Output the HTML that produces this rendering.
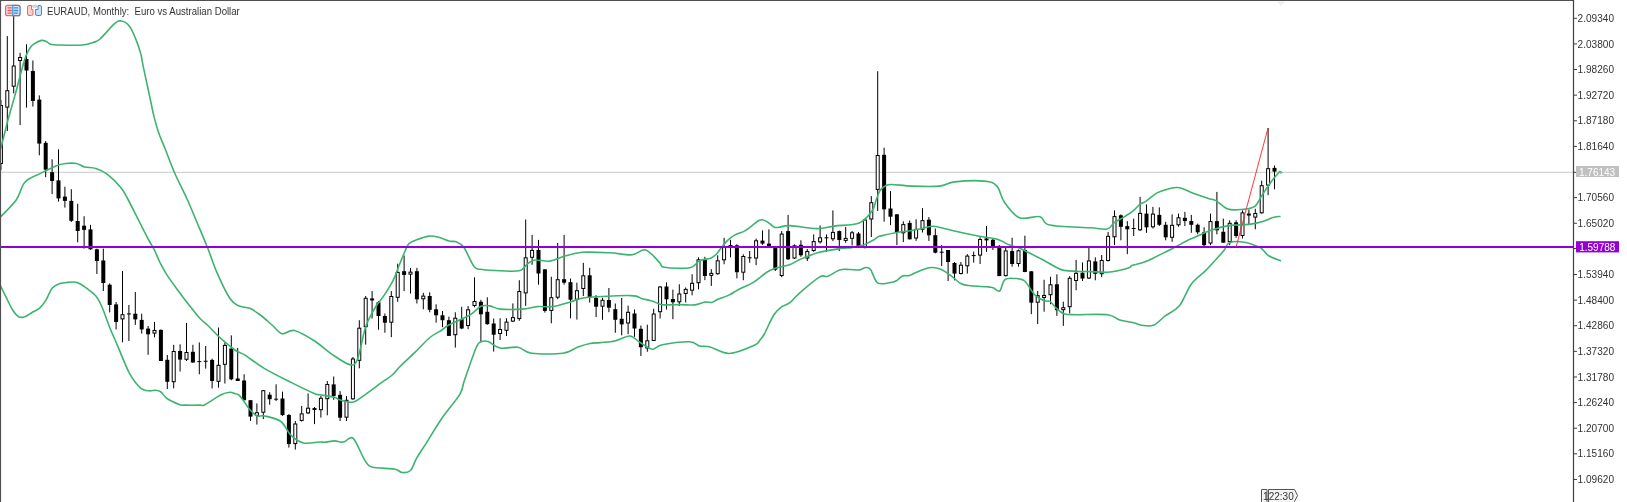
<!DOCTYPE html>
<html><head><meta charset="utf-8"><title>EURAUD Monthly</title>
<style>
html,body{margin:0;padding:0;background:#fff;width:1627px;height:502px;overflow:hidden;}
svg{position:absolute;left:0;top:0;display:block;will-change:transform;}
.ax{font-family:"Liberation Sans",sans-serif;font-size:10px;fill:#333;}
.axw{font-family:"Liberation Sans",sans-serif;font-size:10px;fill:#fff;}
.title{font-family:"Liberation Sans",sans-serif;font-size:10px;fill:#333;white-space:pre;}
</style></head><body>
<svg width="1627" height="502" viewBox="0 0 1627 502"><line x1="0" y1="172.3" x2="1573.5" y2="172.3" stroke="#c8c8c8" stroke-width="1"/>
<path d="M0.9 100V170M7.3 36.1V131M13.7 5V93.4M20.1 52.8V125M26.5 44.3V107.6M32.9 60.5V106.6M39.3 95.4V155.3M45.7 141V177.2M52.1 159.3V194.1M58.5 149.3V201.6M64.9 186.7V207.6M71.3 189.2V222M77.7 203.7V242.3M84.1 216.2V248.6M90.5 224.9V249.8M96.9 248.6V274M103.3 248.6V291M109.7 283.4V312.4M116.1 302V329.4M122.5 271V342.3M128.9 305V341M126.9 313.95H130.9M135.3 292V324.9M141.7 313.7V333.6M148.1 326V354.8M154.5 321.9V337.3M160.9 329.4V361M167.3 355V389M173.7 344.8V388.4M180.1 344.3V371.5M186.5 322.9V361M192.9 344.8V362.7M199.3 342.4V374.3M197.3 361.65H201.3M205.7 346V368.6M203.7 361.25H207.7M212.1 358.6V388.5M218.5 327.5V387.7M224.9 342.4V383.5M231.3 335.4V380.3M237.7 347.9V381M244.1 374.3V400.2M250.5 400.2V420.9M256.9 403.4V424.6M263.3 390V419.1M269.7 392.2V404.7M276.1 384.3V401M274.1 399.2H278.1M282.5 391.7V415.9M288.9 414V447.6M295.3 421V449.6M301.7 405.9V421.6M308.1 393.5V414.1M314.5 407V424.1M320.9 396V417.6M327.3 381.1V415.3M333.7 376.5V399.8M340.1 391.1V421M346.5 396.1V421M352.9 357V399.8M359.3 320.2V368.3M365.7 296V344.6M372.1 291.1V318.5M378.5 301V329.7M384.9 313.5V332.7M391.3 291.1V337.2M397.7 263.7V301.8M404.1 255.5V291.1M410.5 267.9V293.6M416.9 267.9V303.5M423.3 292.8V309.3M429.7 292.3V312.3M436.1 304.3V322.7M442.5 311V327.2M448.9 316.7V335.9M455.3 312.3V347.6M461.7 306.8V329.2M468.1 306V329.2M474.5 277.4V307.3M480.9 299.8V341.7M487.3 297.3V324.7M493.7 318.5V351.6M500.1 318.3V340M506.5 318.3V336M512.9 303.4V322M519.3 280.2V320.8M525.7 219.5V305.9M532.1 234.9V264.8M538.5 239.9V284.7M544.9 269.3V312.6M551.3 276.7V323.3M557.7 242.9V299.2M564.1 234.9V284.7M570.5 278.5V318.3M576.9 282.7V319.6M583.3 262.8V296M589.7 267.8V302.5M596.1 295.2V317M602.5 297.7V319.8M608.9 288V312.2M615.3 303.5V332.8M621.7 298V335.3M628.1 305.6V334.2M634.5 309.5V336.8M640.9 325.5V356M647.3 324.7V351.7M653.7 308.8V341M660.1 286V318.5M666.5 282.3V309.5M672.9 289.6V319.2M679.3 284.3V306M685.7 287.5V302.5M692.1 274.2V295.3M698.5 257.3V289.3M704.9 256.8V280.2M711.3 269.2V285.9M717.7 255.3V274.7M724.1 237.8V264.2M730.5 239.8V257.3M736.9 244.3V278.4M743.3 254.3V280.2M749.7 251V262.7M747.7 257.8H751.7M756.1 238.6V265.2M762.5 230.4V244.8M768.9 229.4V247.8M775.3 246V271M781.7 231.1V277.2M788.1 214.9V260M794.5 244.5V259M800.9 240.3V256.8M807.3 249V261M813.7 234.4V251.8M820.1 225.4V243.6M826.5 234.4V251.8M824.5 237.8H828.5M832.9 210.4V241.1M839.3 230.5V251M845.7 226.9V242.8M852.1 231V245.5M858.5 232V247.5M864.9 218.6V248.5M871.3 196.1V237M877.7 71.2V211M884.1 147.7V221.7M890.5 191.1V225.2M896.9 214V245.1M903.3 221.3V242M909.7 220.5V239.5M916.1 219.3V240.9M922.5 208.2V232.5M928.9 217V240.9M935.3 228.5V253.4M941.7 245.1V266M939.7 252.2H943.7M948.1 249.9V281M954.5 262V280.3M960.9 262V274.5M967.3 254.1V273.6M973.7 251.6V262.6M971.7 255.6H975.7M980.1 237.2V264M986.5 226V251.8M992.9 239V250M999.3 245V276.1M1005.7 247V276.5M1012.1 237.8V266.7M1018.5 249.5V266.7M1024.9 235.7V272.2M1031.3 271V314.2M1037.7 291V324.1M1044.1 279.8V311.7M1050.5 276.8V304.2M1056.9 274.3V315.9M1063.3 301.7V325.9M1069.7 276.1V313.4M1076.1 259.9V290.3M1082.5 262.4V281M1088.9 247.4V279M1095.3 257.4V280.3M1101.7 255V277.2M1108.1 231.9V261.5M1114.5 210.4V245.1M1120.9 214.4V240.3M1127.3 221.1V254.2M1133.7 218.6V236M1131.7 228.5H1135.7M1140.1 196.9V231M1146.5 204.4V232.8M1152.9 206.9V228.5M1159.3 207.4V226M1165.7 221.8V240.3M1172.1 214.4V241.8M1178.5 213.6V226.8M1184.9 211.9V226.1M1191.3 214.9V232.8M1197.7 223.6V234.3M1204.1 227.3V246M1210.5 213.6V245.2M1216.9 191.9V234.3M1223.3 218.6V242.7M1229.7 220.3V245.2M1236.1 220.3V237.8M1242.5 210.4V238.5M1248.9 209.5V224.3M1255.3 208.8V229.3M1261.7 180.6V213.6M1268.1 128V195.2M1274.5 165.5V189.3" stroke="#000" stroke-width="1" fill="none"/>
<g fill="#000"><rect x="24.5" y="59" width="4" height="11.5"/><rect x="30.9" y="71" width="4" height="29.9"/><rect x="37.3" y="99.6" width="4" height="44"/><rect x="43.7" y="142.8" width="4" height="26.9"/><rect x="50.1" y="172.2" width="4" height="8.8"/><rect x="56.5" y="180.4" width="4" height="18"/><rect x="62.9" y="196.6" width="4" height="4.3"/><rect x="69.3" y="200.9" width="4" height="19.9"/><rect x="75.7" y="221" width="4" height="10"/><rect x="82.1" y="225.7" width="4" height="4.2"/><rect x="88.5" y="229.4" width="4" height="19.9"/><rect x="94.9" y="249.3" width="4" height="11.7"/><rect x="101.3" y="260.5" width="4" height="22.5"/><rect x="107.7" y="284.7" width="4" height="20.3"/><rect x="114.1" y="304.4" width="4" height="17.5"/><rect x="133.3" y="313.7" width="4" height="5.7"/><rect x="139.7" y="319.9" width="4" height="9.5"/><rect x="146.1" y="328.6" width="4" height="5.7"/><rect x="158.9" y="329.9" width="4" height="31.1"/><rect x="165.3" y="359.8" width="4" height="22"/><rect x="178.1" y="351" width="4" height="8.6"/><rect x="190.9" y="351.8" width="4" height="10.7"/><rect x="210.1" y="359.9" width="4" height="21.1"/><rect x="229.3" y="348.6" width="4" height="30.7"/><rect x="235.7" y="378.5" width="4" height="2.5"/><rect x="242.1" y="380.5" width="4" height="19.7"/><rect x="248.5" y="400.2" width="4" height="16.4"/><rect x="267.7" y="394.7" width="4" height="4.5"/><rect x="280.5" y="398.5" width="4" height="16.6"/><rect x="286.9" y="415" width="4" height="29.1"/><rect x="312.5" y="408.05" width="4" height="2"/><rect x="331.7" y="384.4" width="4" height="11.6"/><rect x="338.1" y="394.8" width="4" height="22.9"/><rect x="370.1" y="298.45" width="4" height="2"/><rect x="376.5" y="302.3" width="4" height="13.7"/><rect x="382.9" y="316" width="4" height="6.7"/><rect x="402.1" y="271.2" width="4" height="3.7"/><rect x="414.9" y="271.2" width="4" height="28.1"/><rect x="427.7" y="296" width="4" height="13.8"/><rect x="434.1" y="309.3" width="4" height="6"/><rect x="440.5" y="315.3" width="4" height="4.9"/><rect x="446.9" y="320.2" width="4" height="15.7"/><rect x="459.7" y="319.2" width="4" height="9.3"/><rect x="478.9" y="301.8" width="4" height="12.5"/><rect x="485.3" y="311.8" width="4" height="12.4"/><rect x="491.7" y="323.5" width="4" height="11.2"/><rect x="536.5" y="249.9" width="4" height="23.6"/><rect x="542.9" y="269.3" width="4" height="41.6"/><rect x="562.1" y="279.2" width="4" height="3.5"/><rect x="568.5" y="282.2" width="4" height="17.5"/><rect x="587.7" y="275.3" width="4" height="21.8"/><rect x="594.1" y="297.8" width="4" height="8.9"/><rect x="606.9" y="300" width="4" height="7.7"/><rect x="613.3" y="309.2" width="4" height="10.6"/><rect x="619.7" y="318.8" width="4" height="5.6"/><rect x="632.5" y="313.5" width="4" height="15"/><rect x="638.9" y="328.8" width="4" height="18.4"/><rect x="664.5" y="286.5" width="4" height="12.8"/><rect x="670.9" y="299" width="4" height="3.3"/><rect x="702.9" y="259.8" width="4" height="16.2"/><rect x="728.5" y="245.05" width="4" height="2"/><rect x="734.9" y="245.3" width="4" height="26.9"/><rect x="760.5" y="240.6" width="4" height="3"/><rect x="766.9" y="243.6" width="4" height="3.2"/><rect x="773.3" y="246.8" width="4" height="22.9"/><rect x="786.1" y="231.1" width="4" height="28.2"/><rect x="798.9" y="244.8" width="4" height="10.5"/><rect x="837.3" y="231.1" width="4" height="8.9"/><rect x="856.5" y="233.5" width="4" height="13.7"/><rect x="882.1" y="154.8" width="4" height="54.5"/><rect x="888.5" y="208.5" width="4" height="8.2"/><rect x="894.9" y="214.3" width="4" height="17.9"/><rect x="907.7" y="222.9" width="4" height="16.4"/><rect x="926.9" y="219.7" width="4" height="15.6"/><rect x="933.3" y="235.2" width="4" height="17.5"/><rect x="946.1" y="250" width="4" height="12"/><rect x="952.5" y="263" width="4" height="10.6"/><rect x="984.5" y="238.4" width="4" height="2"/><rect x="990.9" y="239.8" width="4" height="6.2"/><rect x="997.3" y="246" width="4" height="30.1"/><rect x="1010.1" y="251" width="4" height="13"/><rect x="1022.9" y="250" width="4" height="22"/><rect x="1029.3" y="271.3" width="4" height="31.4"/><rect x="1054.9" y="284.3" width="4" height="25.9"/><rect x="1080.5" y="272.8" width="4" height="5.7"/><rect x="1093.3" y="261.4" width="4" height="12.4"/><rect x="1118.9" y="215.3" width="4" height="11.5"/><rect x="1125.3" y="226.1" width="4" height="3.2"/><rect x="1144.5" y="213.6" width="4" height="13.7"/><rect x="1157.3" y="214.9" width="4" height="9.9"/><rect x="1163.7" y="224.8" width="4" height="12.5"/><rect x="1182.9" y="217.8" width="4" height="3.3"/><rect x="1189.3" y="221.1" width="4" height="3.7"/><rect x="1195.7" y="224.8" width="4" height="7.5"/><rect x="1202.1" y="232.3" width="4" height="12.9"/><rect x="1214.9" y="221.1" width="4" height="9.2"/><rect x="1221.3" y="231.8" width="4" height="10.9"/><rect x="1234.1" y="222.3" width="4" height="13.7"/><rect x="1246.9" y="213.55" width="4" height="2"/><rect x="1272.5" y="167.9" width="4" height="3.7"/></g>
<g fill="#fff" stroke="#000" stroke-width="1"><rect x="-0.6" y="105.5" width="3" height="58"/><rect x="5.8" y="90.7" width="3" height="16.4"/><rect x="12.2" y="66" width="3" height="20.2"/><rect x="18.6" y="57.5" width="3" height="3"/><rect x="121" y="314.7" width="3" height="4.2"/><rect x="153" y="330.4" width="3" height="2.7"/><rect x="172.2" y="351.5" width="3" height="30.2"/><rect x="185" y="352.5" width="3" height="6.8"/><rect x="217" y="365.3" width="3" height="16"/><rect x="223.4" y="345.4" width="3" height="18.9"/><rect x="255.4" y="412.7" width="3" height="2.7"/><rect x="261.8" y="390.7" width="3" height="21.5"/><rect x="293.8" y="424" width="3" height="19.6"/><rect x="300.2" y="413.9" width="3" height="6.5"/><rect x="306.6" y="408.2" width="3" height="4.7"/><rect x="319.4" y="398.3" width="3" height="11.4"/><rect x="325.8" y="384.5" width="3" height="14.2"/><rect x="345" y="400.3" width="3" height="16.9"/><rect x="351.4" y="359" width="3" height="39.8"/><rect x="357.8" y="328.2" width="3" height="32.1"/><rect x="364.2" y="298.3" width="3" height="28.4"/><rect x="389.8" y="296.5" width="3" height="25.7"/><rect x="396.2" y="272.4" width="3" height="24.9"/><rect x="409" y="272.15" width="3" height="2"/><rect x="421.8" y="296.1" width="3" height="2.7"/><rect x="453.8" y="318.2" width="3" height="16.5"/><rect x="466.6" y="309.8" width="3" height="15.7"/><rect x="473" y="301.5" width="3" height="4"/><rect x="498.6" y="329.5" width="3" height="4"/><rect x="505" y="322.1" width="3" height="8.2"/><rect x="511.4" y="317.6" width="3" height="3.5"/><rect x="517.8" y="291.5" width="3" height="27.1"/><rect x="524.2" y="257.8" width="3" height="35.1"/><rect x="530.6" y="250.4" width="3" height="6.9"/><rect x="549.8" y="297.7" width="3" height="12.7"/><rect x="556.2" y="279.7" width="3" height="17.5"/><rect x="575.4" y="290.7" width="3" height="8.5"/><rect x="581.8" y="275.8" width="3" height="12.7"/><rect x="601" y="300.3" width="3" height="5.9"/><rect x="626.6" y="312.3" width="3" height="10.7"/><rect x="645.8" y="340.8" width="3" height="7.2"/><rect x="652.2" y="314" width="3" height="26.5"/><rect x="658.6" y="287" width="3" height="24.7"/><rect x="677.8" y="294" width="3" height="7.8"/><rect x="684.2" y="289.4" width="3" height="4.1"/><rect x="690.6" y="283.3" width="3" height="6.9"/><rect x="697" y="259.8" width="3" height="22.9"/><rect x="709.8" y="273.35" width="3" height="2"/><rect x="716.2" y="260.8" width="3" height="12.9"/><rect x="722.6" y="246.6" width="3" height="13.2"/><rect x="741.8" y="256.5" width="3" height="15.7"/><rect x="754.6" y="240.8" width="3" height="17.2"/><rect x="780.2" y="234.1" width="3" height="41.4"/><rect x="793" y="245.8" width="3" height="12.2"/><rect x="805.8" y="251.5" width="3" height="6.5"/><rect x="812.2" y="241.6" width="3" height="8.9"/><rect x="818.6" y="237.8" width="3" height="4"/><rect x="831.4" y="232.4" width="3" height="6.4"/><rect x="844.2" y="238.4" width="3" height="2"/><rect x="850.6" y="232.8" width="3" height="5.5"/><rect x="863.4" y="220" width="3" height="27.2"/><rect x="869.8" y="202.7" width="3" height="16.3"/><rect x="876.2" y="155.5" width="3" height="33.9"/><rect x="901.8" y="224.6" width="3" height="8.2"/><rect x="914.6" y="229.4" width="3" height="8.6"/><rect x="921" y="220.6" width="3" height="8.6"/><rect x="959.4" y="265.2" width="3" height="8.3"/><rect x="965.8" y="256.1" width="3" height="9.7"/><rect x="978.6" y="239.5" width="3" height="15.6"/><rect x="1004.2" y="250.9" width="3" height="24.7"/><rect x="1017" y="250.8" width="3" height="12.7"/><rect x="1036.2" y="295.7" width="3" height="6.5"/><rect x="1042.6" y="295.45" width="3" height="2"/><rect x="1049" y="284.8" width="3" height="9.9"/><rect x="1061.8" y="307.7" width="3" height="2"/><rect x="1068.2" y="278.3" width="3" height="28.4"/><rect x="1074.6" y="273.3" width="3" height="7.2"/><rect x="1087.4" y="260.9" width="3" height="17.1"/><rect x="1100.2" y="260.5" width="3" height="13.2"/><rect x="1106.6" y="236.3" width="3" height="24.2"/><rect x="1113" y="216.6" width="3" height="20.2"/><rect x="1138.6" y="213.4" width="3" height="16.4"/><rect x="1151.4" y="214.1" width="3" height="12.7"/><rect x="1170.6" y="225.3" width="3" height="12"/><rect x="1177" y="217.8" width="3" height="7"/><rect x="1209" y="221.6" width="3" height="21.4"/><rect x="1228.2" y="223.3" width="3" height="18.4"/><rect x="1241" y="212.9" width="3" height="22.6"/><rect x="1253.8" y="213.5" width="3" height="3.6"/><rect x="1260.2" y="185.7" width="3" height="27.1"/><rect x="1266.6" y="168.7" width="3" height="16.4"/></g>
<path d="M0 150C0.22 149.42 0 151.4 1.3 146.5C2.6 141.6 5.43 129.45 7.8 120.6C10.17 111.75 13.13 102.03 15.5 93.4C17.87 84.77 20.27 75.03 22 68.8C23.73 62.57 24.57 59.47 25.9 56C27.23 52.53 28.7 49.97 30 48C31.3 46.03 31.8 45.47 33.7 44.2C35.6 42.93 39.25 40.82 41.4 40.4C43.55 39.98 45.08 41.07 46.6 41.7C48.12 42.33 48.33 43.65 50.5 44.2C52.67 44.75 54.2 44.87 59.6 45C65 45.13 77.3 45.43 82.9 45C88.5 44.57 90.35 43.4 93.2 42.4C96.05 41.4 96.43 42.12 100 39C103.57 35.88 111.02 26.7 114.6 23.7C118.18 20.7 119.02 20.58 121.5 21C123.98 21.42 127.08 23.1 129.5 26.2C131.92 29.3 134.12 34.98 136 39.6C137.88 44.22 139.62 49.52 140.8 53.9C141.98 58.28 142.12 61.12 143.1 65.9C144.08 70.68 145.5 77.03 146.7 82.6C147.9 88.17 149.1 93.72 150.3 99.3C151.5 104.88 152.5 110.52 153.9 116.1C155.3 121.68 156.78 127.23 158.7 132.8C160.62 138.37 162.8 142.93 165.4 149.5C168 156.07 170.62 163.78 174.3 172.2C177.98 180.62 183.75 191.7 187.5 200C191.25 208.3 193.48 214.12 196.8 222C200.12 229.88 203.98 238.73 207.4 247.3C210.82 255.87 213.57 264.9 217.3 273.4C221.03 281.9 226.27 292.9 229.8 298.3C233.33 303.7 235.18 304.13 238.5 305.8C241.82 307.47 246.17 306.85 249.7 308.3C253.23 309.75 255.97 311.72 259.7 314.5C263.43 317.28 268.38 321.8 272.1 325C275.82 328.2 278.28 332.78 282 333.7C285.72 334.62 288.97 329.28 294.4 330.5C299.83 331.72 308.27 336.98 314.6 341C320.93 345.02 326.53 350.67 332.4 354.6C338.27 358.53 345.65 363.77 349.8 364.6C353.95 365.43 354.8 365.42 357.3 359.6C359.8 353.78 362.8 336.58 364.8 329.7C366.8 322.82 367.38 322.28 369.3 318.3C371.22 314.32 373.75 309.75 376.3 305.8C378.85 301.85 381.82 298.78 384.6 294.6C387.38 290.42 390.67 285.35 393 280.7C395.33 276.05 396.52 271.82 398.6 266.7C400.68 261.58 403.77 253.85 405.5 250C407.23 246.15 407.17 245.3 409 243.6C410.83 241.9 413.18 241.05 416.5 239.8C419.82 238.55 425.17 236.52 428.9 236.1C432.63 235.68 435.57 236.47 438.9 237.3C442.23 238.13 446 240.35 448.9 241.1C451.8 241.85 453.82 240.77 456.3 241.8C458.78 242.83 460.9 243.27 463.8 247.3C466.7 251.33 471 262.33 473.7 266C476.4 269.67 476.45 268.55 480 269.3C483.55 270.05 488.5 270.25 495 270.5C501.5 270.75 513.6 271.88 519 270.8C524.4 269.72 524.77 265.8 527.4 264C530.03 262.2 531.07 260.48 534.8 260C538.53 259.52 544.82 261.75 549.8 261.1C554.78 260.45 559.3 257.57 564.7 256.1C570.1 254.63 574.72 252.85 582.2 252.3C589.68 251.75 601.3 252.38 609.6 252.8C617.9 253.22 625.98 255.28 632 254.8C638.02 254.32 641.13 248.65 645.7 249.9C650.27 251.15 656.3 259.4 659.4 262.3C662.5 265.2 659.2 266.38 664.3 267.3C669.4 268.22 684.12 268.92 690 267.8C695.88 266.68 696.15 262.2 699.6 260.6C703.05 259 707.92 259.27 710.7 258.2C713.48 257.13 714.45 256.05 716.3 254.2C718.15 252.35 719.82 249.48 721.8 247.1C723.78 244.72 726.07 241.9 728.2 239.9C730.33 237.9 731.68 236.68 734.6 235.1C737.52 233.52 741.72 232.78 745.7 230.4C749.68 228.02 755.58 222.53 758.5 220.8C761.42 219.07 761.62 219.73 763.2 220C764.78 220.27 766.13 221.2 768 222.4C769.87 223.6 772.53 226.4 774.4 227.2C776.27 228 776.6 227.47 779.2 227.2C781.8 226.93 783.7 225.37 790 225.6C796.3 225.83 809.6 228.52 817 228.6C824.4 228.68 827.35 227.05 834.4 226.1C841.45 225.15 853.03 225.42 859.3 222.9C865.57 220.38 869.13 214.98 872 211C874.87 207.02 875.17 202.42 876.5 199C877.83 195.58 878.42 192.75 880 190.5C881.58 188.25 884 186.5 886 185.5C888 184.5 887.63 184.4 892 184.5C896.37 184.6 904.27 185.83 912.2 186.1C920.13 186.37 932.53 186.8 939.6 186.1C946.67 185.4 947.12 182.73 954.6 181.9C962.08 181.07 977.45 180.4 984.5 181.1C991.55 181.8 993.58 182.57 996.9 186.1C1000.22 189.63 1000.67 197.03 1004.4 202.3C1008.13 207.57 1013.37 215.3 1019.3 217.7C1025.23 220.1 1034.95 215.48 1040 216.7C1045.05 217.92 1041.27 223.15 1049.6 225C1057.93 226.85 1080.4 227.13 1090 227.8C1099.6 228.47 1103.15 229.87 1107.2 229C1111.25 228.13 1111.52 224.58 1114.3 222.6C1117.08 220.62 1120.72 219.08 1123.9 217.1C1127.08 215.12 1130.75 212.83 1133.4 210.7C1136.05 208.57 1137.67 205.9 1139.8 204.3C1141.93 202.7 1143.82 202.68 1146.2 201.1C1148.58 199.52 1151.72 196.38 1154.1 194.8C1156.48 193.22 1156.65 192.82 1160.5 191.6C1164.35 190.38 1171.52 187.15 1177.2 187.5C1182.88 187.85 1189.4 191.88 1194.6 193.7C1199.8 195.52 1204.72 197.17 1208.4 198.4C1212.08 199.63 1213.45 199.32 1216.7 201.1C1219.95 202.88 1223.72 207.7 1227.9 209.1C1232.08 210.5 1237.38 209.9 1241.8 209.5C1246.22 209.1 1251.13 208.9 1254.4 206.7C1257.67 204.5 1258.85 200.13 1261.4 196.3C1263.95 192.47 1266.57 187.93 1269.7 183.7C1272.83 179.47 1278.45 173.03 1280.2 170.9" fill="none" stroke="#3cb371" stroke-width="1.6" stroke-linejoin="round"/>
<path d="M0 217.4C2.7 214.5 12.05 205.87 16.2 200C20.35 194.13 20.93 186.6 24.9 182.2C28.87 177.8 34.83 176.32 40 173.6C45.17 170.88 51.65 167.58 55.9 165.9C60.15 164.22 62.05 163.9 65.5 163.5C68.95 163.1 73.42 162.92 76.6 163.5C79.78 164.08 81.38 166.17 84.6 167C87.82 167.83 92.15 167.3 95.9 168.5C99.65 169.7 102.92 171 107.1 174.2C111.28 177.4 117.47 183.4 121 187.7C124.53 192 125.22 194.28 128.3 200C131.38 205.72 136.05 215.25 139.5 222C142.95 228.75 146.52 235.83 149 240.5C151.48 245.17 152.57 246.33 154.4 250C156.23 253.67 157.92 258.35 160 262.5C162.08 266.65 163.68 269.93 166.9 274.9C170.12 279.87 175.62 287.28 179.3 292.3C182.98 297.32 185.55 300.63 189 305C192.45 309.37 196.93 315.17 200 318.5C203.07 321.83 204.12 321.85 207.4 325C210.68 328.15 215.1 333.23 219.7 337.4C224.3 341.57 230.85 347.08 235 350C239.15 352.92 239.67 351.8 244.6 354.9C249.53 358 256.78 363.98 264.6 368.6C272.42 373.22 283.22 378.45 291.5 382.6C299.78 386.75 309.62 391.47 314.3 393.5C318.98 395.53 316.27 394.18 319.6 394.8C322.93 395.42 330.97 396.37 334.3 397.2C337.63 398.03 336.65 398.95 339.6 399.8C342.55 400.65 348.68 402.5 352 402.3C355.32 402.1 354.52 401.92 359.5 398.6C364.48 395.28 376.45 386.33 381.9 382.4C387.35 378.47 389.18 377.65 392.2 375C395.22 372.35 396.22 370.27 400 366.5C403.78 362.73 409.92 357.23 414.9 352.4C419.88 347.57 425.4 341.23 429.9 337.5C434.4 333.77 438.68 332.12 441.9 330C445.12 327.88 444.62 327.25 449.2 324.8C453.78 322.35 464.12 318.38 469.4 315.3C474.68 312.22 477.47 307.87 480.9 306.3C484.33 304.73 486.82 305.43 490 305.9C493.18 306.37 494.6 308.57 500 309.1C505.4 309.63 516.18 309.52 522.4 309.1C528.62 308.68 532.32 307.02 537.3 306.6C542.28 306.18 546.9 307.33 552.3 306.6C557.7 305.87 565.08 303.52 569.7 302.2C574.32 300.88 576.68 299.53 580 298.7C583.32 297.87 581.12 297.72 589.6 297.2C598.08 296.68 622.12 295.35 630.9 295.6C639.68 295.85 638.8 297.82 642.3 298.7C645.8 299.58 648.62 299.9 651.9 300.9C655.18 301.9 657.32 304.08 662 304.7C666.68 305.32 674.57 304.57 680 304.6C685.43 304.63 690.45 305.32 694.6 304.9C698.75 304.48 702 302.52 704.9 302.1C707.8 301.68 709.92 302.82 712 302.4C714.08 301.98 714.5 300.85 717.4 299.6C720.3 298.35 726 296.5 729.4 294.9C732.8 293.3 733.75 292.13 737.8 290C741.85 287.87 748.93 285.02 753.7 282.1C758.47 279.18 762.95 274.75 766.4 272.5C769.85 270.25 770.47 269.92 774.4 268.6C778.33 267.28 785.77 266.12 790 264.6C794.23 263.08 795.07 261.5 799.8 259.5C804.53 257.5 811.57 254.45 818.4 252.6C825.23 250.75 835.27 249.23 840.8 248.4C846.33 247.57 847.8 248.17 851.6 247.6C855.4 247.03 861.07 245.67 863.6 245C866.13 244.33 865.15 244.43 866.8 243.6C868.45 242.77 871.73 241.07 873.5 240C875.27 238.93 876.32 237.85 877.4 237.2C878.48 236.55 876.57 236.92 880 236.1C883.43 235.28 893.12 233.15 898 232.3C902.88 231.45 905.57 231.58 909.3 231C913.03 230.42 916.68 229.58 920.4 228.8C924.12 228.02 928.57 226.57 931.6 226.3C934.63 226.03 933.87 226.2 938.6 227.2C943.33 228.2 953.18 230.78 960 232.3C966.82 233.82 973.17 235.1 979.5 236.3C985.83 237.5 993.18 238.12 998 239.5C1002.82 240.88 1005.05 243.25 1008.4 244.6C1011.75 245.95 1014.85 246.32 1018.1 247.6C1021.35 248.88 1023.95 250.35 1027.9 252.3C1031.85 254.25 1037.15 256.85 1041.8 259.3C1046.45 261.75 1052.07 265.15 1055.8 267C1059.53 268.85 1060.2 269.65 1064.2 270.4C1068.2 271.15 1075.5 271.3 1079.8 271.5C1084.1 271.7 1085.35 271.47 1090 271.6C1094.65 271.73 1102.75 272.52 1107.7 272.3C1112.65 272.08 1116.05 271.1 1119.7 270.3C1123.35 269.5 1127.58 268.28 1129.6 267.5C1131.62 266.72 1129.57 266.43 1131.8 265.6C1134.03 264.77 1139.55 263.68 1143 262.5C1146.45 261.32 1149.05 260.1 1152.5 258.5C1155.95 256.9 1159.98 254.77 1163.7 252.9C1167.42 251.03 1171.08 249.25 1174.8 247.3C1178.52 245.35 1182.47 242.95 1186 241.2C1189.53 239.45 1191.95 238.57 1196 236.8C1200.05 235.03 1204.8 232.47 1210.3 230.6C1215.8 228.73 1222.58 226.63 1229 225.6C1235.42 224.57 1243.17 225.1 1248.8 224.4C1254.43 223.7 1258.62 222.6 1262.8 221.4C1266.98 220.2 1270.93 218.02 1273.9 217.2C1276.87 216.38 1279.48 216.62 1280.6 216.5" fill="none" stroke="#3cb371" stroke-width="1.6" stroke-linejoin="round"/>
<path d="M0 284.9C1.03 286.97 4.12 293.15 6.2 297.3C8.28 301.45 10.42 306.57 12.5 309.8C14.58 313.03 16.63 315.55 18.7 316.7C20.77 317.85 22.62 317.43 24.9 316.7C27.18 315.97 29.9 313.78 32.4 312.3C34.9 310.82 37.62 309.88 39.9 307.8C42.18 305.72 44.03 303.12 46.1 299.8C48.17 296.48 50.02 290.6 52.3 287.9C54.58 285.2 57.32 284.52 59.8 283.6C62.28 282.68 64.3 282.6 67.2 282.4C70.1 282.2 73.87 281.37 77.2 282.4C80.53 283.43 84.08 286.32 87.2 288.6C90.32 290.88 93.42 292.98 95.9 296.1C98.38 299.22 99.82 302.12 102.1 307.3C104.38 312.48 107.1 320.98 109.6 327.2C112.1 333.42 113.78 336.92 117.1 344.6C120.42 352.28 125.52 366 129.5 373.3C133.48 380.6 137.75 385.48 141 388.4C144.25 391.32 146.5 390.5 149 390.8C151.5 391.1 154 390 156 390.2C158 390.4 159.17 390.62 161 392C162.83 393.38 163.85 396.38 167 398.5C170.15 400.62 177.02 403.6 179.9 404.7C182.78 405.8 180.95 405.03 184.3 405.1C187.65 405.17 196.58 405.17 200 405.1C203.42 405.03 201.28 406.42 204.8 404.7C208.32 402.98 216.9 396.87 221.1 394.8C225.3 392.73 227.75 392.52 230 392.3C232.25 392.08 233.15 393.08 234.6 393.5C236.05 393.92 237.03 393.35 238.7 394.8C240.37 396.25 242.73 399.7 244.6 402.2C246.47 404.7 247.83 407.52 249.9 409.8C251.97 412.08 254.52 414.87 257 415.9C259.48 416.93 260.82 415.07 264.8 416C268.78 416.93 276.57 418.3 280.9 421.5C285.23 424.7 287.07 431.62 290.8 435.2C294.53 438.78 298.55 441.87 303.3 443C308.05 444.13 315.75 442.13 319.3 442C322.85 441.87 322.05 442.38 324.6 442.2C327.15 442.02 332.03 440.93 334.6 440.9C337.17 440.87 338.35 441.87 340 442C341.65 442.13 342.3 442.3 344.5 441.7C346.7 441.1 349.87 435.42 353.2 438.4C356.53 441.38 361.38 454.82 364.5 459.6C367.62 464.38 366.93 465.53 371.9 467.1C376.87 468.67 389.28 468.1 394.3 469C399.32 469.9 399.3 472.25 402 472.5C404.7 472.75 408.1 472.82 410.5 470.5C412.9 468.18 413.67 463.33 416.4 458.6C419.13 453.87 422.65 448.83 426.9 442.1C431.15 435.37 436.42 426.17 441.9 418.2C447.38 410.23 456.07 400.53 459.8 394.3C463.53 388.07 461.6 388.52 464.3 380.8C467 373.08 473.22 354.5 476 348C478.78 341.5 479 342.87 481 341.8C483 340.73 484.8 340.57 488 341.6C491.2 342.63 495.18 347.05 500.2 348C505.22 348.95 512.88 346.42 518.1 347.3C523.32 348.18 524.03 352.3 531.5 353.3C538.97 354.3 555.15 354.35 562.9 353.3C570.65 352.25 573.48 348.63 578 347C582.52 345.37 586.33 344.23 590 343.5C593.67 342.77 595.85 343.02 600 342.6C604.15 342.18 609.93 342.1 614.9 341C619.87 339.9 625.65 335.78 629.8 336C633.95 336.22 636.07 340.1 639.8 342.3C643.53 344.5 648.47 348.78 652.2 349.2C655.93 349.62 655.97 346.03 662.2 344.8C668.43 343.57 683.37 341.6 689.6 341.8C695.83 342 696.28 345.17 699.6 346C702.92 346.83 704.53 345.55 709.5 346.8C714.47 348.05 721.93 353.75 729.4 353.5C736.87 353.25 749.2 347.55 754.3 345.3C759.4 343.05 758.33 341.88 760 340C761.67 338.12 761.98 338.22 764.3 334C766.62 329.78 770.97 319.25 773.9 314.7C776.83 310.15 779.23 308.7 781.9 306.7C784.57 304.7 786.92 305.02 789.9 302.7C792.88 300.38 794.82 297.1 799.8 292.8C804.78 288.5 815.15 279.65 819.8 276.9C824.45 274.15 824.38 277.47 827.7 276.3C831.02 275.13 836.05 271.03 839.7 269.9C843.35 268.77 846.28 269.5 849.6 269.5C852.92 269.5 856.93 270.23 859.6 269.9C862.27 269.57 863.77 267.57 865.6 267.5C867.43 267.43 868.62 266.95 870.6 269.5C872.58 272.05 874.35 280.58 877.5 282.8C880.65 285.02 886.33 283.13 889.5 282.8C892.67 282.47 894.35 281.95 896.5 280.8C898.65 279.65 900.25 276.78 902.4 275.9C904.55 275.02 906.57 276.33 909.4 275.5C912.23 274.67 915.75 272.23 919.4 270.9C923.05 269.57 927.65 267.73 931.3 267.5C934.95 267.27 937.98 268.1 941.3 269.5C944.62 270.9 947.88 273.52 951.2 275.9C954.52 278.28 957.87 282.15 961.2 283.8C964.53 285.45 966.88 285.3 971.2 285.8C975.52 286.3 983.45 286.47 987.1 286.8C990.75 287.13 991 287.1 993.1 287.8C995.2 288.5 997.77 292.33 999.7 291C1001.63 289.67 1002.2 281.88 1004.7 279.8C1007.2 277.72 1011.38 278.3 1014.7 278.5C1018.02 278.7 1021.28 278.3 1024.6 281C1027.92 283.7 1031.37 291.4 1034.6 294.7C1037.83 298 1041.43 299.68 1044 300.8C1046.57 301.92 1048.02 300.23 1050 301.4C1051.98 302.57 1053.58 305.75 1055.9 307.8C1058.22 309.85 1060.57 312.55 1063.9 313.7C1067.23 314.85 1068.6 314.53 1075.9 314.7C1083.2 314.87 1100.4 313.8 1107.7 314.7C1115 315.6 1115.38 318.77 1119.7 320.1C1124.02 321.43 1129.95 321.83 1133.6 322.7C1137.25 323.57 1138.28 324.87 1141.6 325.3C1144.92 325.73 1149.52 326.9 1153.5 325.3C1157.48 323.7 1161.18 318.95 1165.5 315.7C1169.82 312.45 1175.08 311.1 1179.4 305.8C1183.72 300.5 1187.08 289.72 1191.4 283.9C1195.72 278.08 1200.98 275.22 1205.3 270.9C1209.62 266.58 1214.13 261.48 1217.3 258C1220.47 254.52 1222.27 252.55 1224.3 250C1226.33 247.45 1226.15 244 1229.5 242.7C1232.85 241.4 1239.42 241.45 1244.4 242.2C1249.38 242.95 1256.28 245.9 1259.4 247.2C1262.52 248.5 1261.48 248.53 1263.1 250C1264.72 251.47 1266.12 254.17 1269.1 256C1272.08 257.83 1279.02 260.17 1281 261" fill="none" stroke="#3cb371" stroke-width="1.6" stroke-linejoin="round"/>
<line x1="0" y1="247" x2="1573.5" y2="247" stroke="#9400d3" stroke-width="2"/>
<line x1="1236.2" y1="246.7" x2="1268" y2="128" stroke="#ff2020" stroke-width="0.9"/>
<path d="M1280.3 170.2 L1283 172.4 L1280.3 174.2 Z" fill="#3cb371" opacity="0.8"/>
<line x1="0" y1="0.5" x2="1573.5" y2="0.5" stroke="#505050" stroke-width="1.2"/>
<line x1="0.5" y1="0" x2="0.5" y2="502" stroke="#505050" stroke-width="1.2"/>
<line x1="1573.5" y1="0" x2="1573.5" y2="502" stroke="#404040" stroke-width="1.2"/>
<path d="M1277 1.5 L1285 1.5 L1281 6 Z" fill="#f1edf3"/>
<line x1="1573.5" y1="18.3" x2="1577" y2="18.3" stroke="#404040" stroke-width="1"/>
<text x="1577.6" y="21.9" class="ax" textLength="36.4" lengthAdjust="spacingAndGlyphs">2.09340</text>
<line x1="1573.5" y1="43.92" x2="1577" y2="43.92" stroke="#404040" stroke-width="1"/>
<text x="1577.6" y="47.52" class="ax" textLength="36.4" lengthAdjust="spacingAndGlyphs">2.03800</text>
<line x1="1573.5" y1="69.54" x2="1577" y2="69.54" stroke="#404040" stroke-width="1"/>
<text x="1577.6" y="73.14" class="ax" textLength="36.4" lengthAdjust="spacingAndGlyphs">1.98260</text>
<line x1="1573.5" y1="95.16" x2="1577" y2="95.16" stroke="#404040" stroke-width="1"/>
<text x="1577.6" y="98.76" class="ax" textLength="36.4" lengthAdjust="spacingAndGlyphs">1.92720</text>
<line x1="1573.5" y1="120.78" x2="1577" y2="120.78" stroke="#404040" stroke-width="1"/>
<text x="1577.6" y="124.38" class="ax" textLength="36.4" lengthAdjust="spacingAndGlyphs">1.87180</text>
<line x1="1573.5" y1="146.4" x2="1577" y2="146.4" stroke="#404040" stroke-width="1"/>
<text x="1577.6" y="150" class="ax" textLength="36.4" lengthAdjust="spacingAndGlyphs">1.81640</text>
<line x1="1573.5" y1="197.64" x2="1577" y2="197.64" stroke="#404040" stroke-width="1"/>
<text x="1577.6" y="201.24" class="ax" textLength="36.4" lengthAdjust="spacingAndGlyphs">1.70560</text>
<line x1="1573.5" y1="223.26" x2="1577" y2="223.26" stroke="#404040" stroke-width="1"/>
<text x="1577.6" y="226.86" class="ax" textLength="36.4" lengthAdjust="spacingAndGlyphs">1.65020</text>
<line x1="1573.5" y1="274.5" x2="1577" y2="274.5" stroke="#404040" stroke-width="1"/>
<text x="1577.6" y="278.1" class="ax" textLength="36.4" lengthAdjust="spacingAndGlyphs">1.53940</text>
<line x1="1573.5" y1="300.12" x2="1577" y2="300.12" stroke="#404040" stroke-width="1"/>
<text x="1577.6" y="303.72" class="ax" textLength="36.4" lengthAdjust="spacingAndGlyphs">1.48400</text>
<line x1="1573.5" y1="325.74" x2="1577" y2="325.74" stroke="#404040" stroke-width="1"/>
<text x="1577.6" y="329.34" class="ax" textLength="36.4" lengthAdjust="spacingAndGlyphs">1.42860</text>
<line x1="1573.5" y1="351.36" x2="1577" y2="351.36" stroke="#404040" stroke-width="1"/>
<text x="1577.6" y="354.96" class="ax" textLength="36.4" lengthAdjust="spacingAndGlyphs">1.37320</text>
<line x1="1573.5" y1="376.98" x2="1577" y2="376.98" stroke="#404040" stroke-width="1"/>
<text x="1577.6" y="380.58" class="ax" textLength="36.4" lengthAdjust="spacingAndGlyphs">1.31780</text>
<line x1="1573.5" y1="402.6" x2="1577" y2="402.6" stroke="#404040" stroke-width="1"/>
<text x="1577.6" y="406.2" class="ax" textLength="36.4" lengthAdjust="spacingAndGlyphs">1.26240</text>
<line x1="1573.5" y1="428.22" x2="1577" y2="428.22" stroke="#404040" stroke-width="1"/>
<text x="1577.6" y="431.82" class="ax" textLength="36.4" lengthAdjust="spacingAndGlyphs">1.20700</text>
<line x1="1573.5" y1="453.84" x2="1577" y2="453.84" stroke="#404040" stroke-width="1"/>
<text x="1577.6" y="457.44" class="ax" textLength="36.4" lengthAdjust="spacingAndGlyphs">1.15160</text>
<line x1="1573.5" y1="479.46" x2="1577" y2="479.46" stroke="#404040" stroke-width="1"/>
<text x="1577.6" y="483.06" class="ax" textLength="36.4" lengthAdjust="spacingAndGlyphs">1.09620</text>
<rect x="1576" y="166" width="43" height="11" fill="#c0c0c0"/>
<line x1="1573.5" y1="172.3" x2="1576" y2="172.3" stroke="#404040" stroke-width="1"/>
<text x="1579" y="175.8" class="axw" textLength="36.2" lengthAdjust="spacingAndGlyphs">1.76143</text>
<rect x="1576" y="241.2" width="43" height="11.2" fill="#9400d3"/>
<line x1="1573.5" y1="248.5" x2="1576" y2="248.5" stroke="#404040" stroke-width="1"/>
<text x="1579.2" y="250.9" class="axw" textLength="36.2" lengthAdjust="spacingAndGlyphs">1.59788</text>
<path d="M1261.5 502 V489.5 H1267 V502" fill="#f4f4f4" stroke="#555" stroke-width="1"/>
<path d="M1268.5 502 V489.5 H1294.5 L1297.6 495.5 L1294.5 501.5 V502" fill="#f4f4f4" stroke="#555" stroke-width="1"/>
<text x="1262.9" y="499.6" class="ax">1</text>
<text x="1268.7" y="499.6" class="ax" textLength="25" lengthAdjust="spacingAndGlyphs">22:30</text>

<g>
 <rect x="5.6" y="5.3" width="14.4" height="10.4" rx="2" ry="2" fill="#fadad7" stroke="#e46a66" stroke-width="1.2"/>
 <path d="M12.8 5.3 H18 a2 2 0 0 1 2 2 V13.7 a2 2 0 0 1 -2 2 H12.8 Z" fill="#d6e8f8" stroke="#3f8fd8" stroke-width="1.2"/>
 <path d="M7.6 7.8H11.8M7.6 10.5H11.8M7.6 13.2H11.8" stroke="#e25d5a" stroke-width="1.3"/>
 <path d="M13.8 7.8H18.2M13.8 10.5H18.2M13.8 13.2H18.2" stroke="#3a88d2" stroke-width="1.3"/>
 <path d="M27.5 7 a1.5 1.5 0 0 1 1.5 -1.5 H31.5 V9.5 H33 V14 a1.5 1.5 0 0 1 -1.5 1.5 H29 a1.5 1.5 0 0 1 -1.5 -1.5 Z" fill="#fbd0cc" stroke="#e86a6a" stroke-width="1"/>
 <path d="M41.5 7 a1.5 1.5 0 0 0 -1.5 -1.5 H38 V9.5 H35.5 V14 a1.5 1.5 0 0 0 1.5 1.5 H40 a1.5 1.5 0 0 0 1.5 -1.5 Z" fill="#c9e2f7" stroke="#3d8fd6" stroke-width="1"/>
 <rect x="32.3" y="5.3" width="4.6" height="2" rx="1" fill="#e0e0e0" stroke="#b0b0b0" stroke-width="0.6"/>
</g>

<text x="47" y="14.9" class="title" textLength="192.8" lengthAdjust="spacingAndGlyphs">EURAUD, Monthly:  Euro vs Australian Dollar</text></svg>
</body></html>
